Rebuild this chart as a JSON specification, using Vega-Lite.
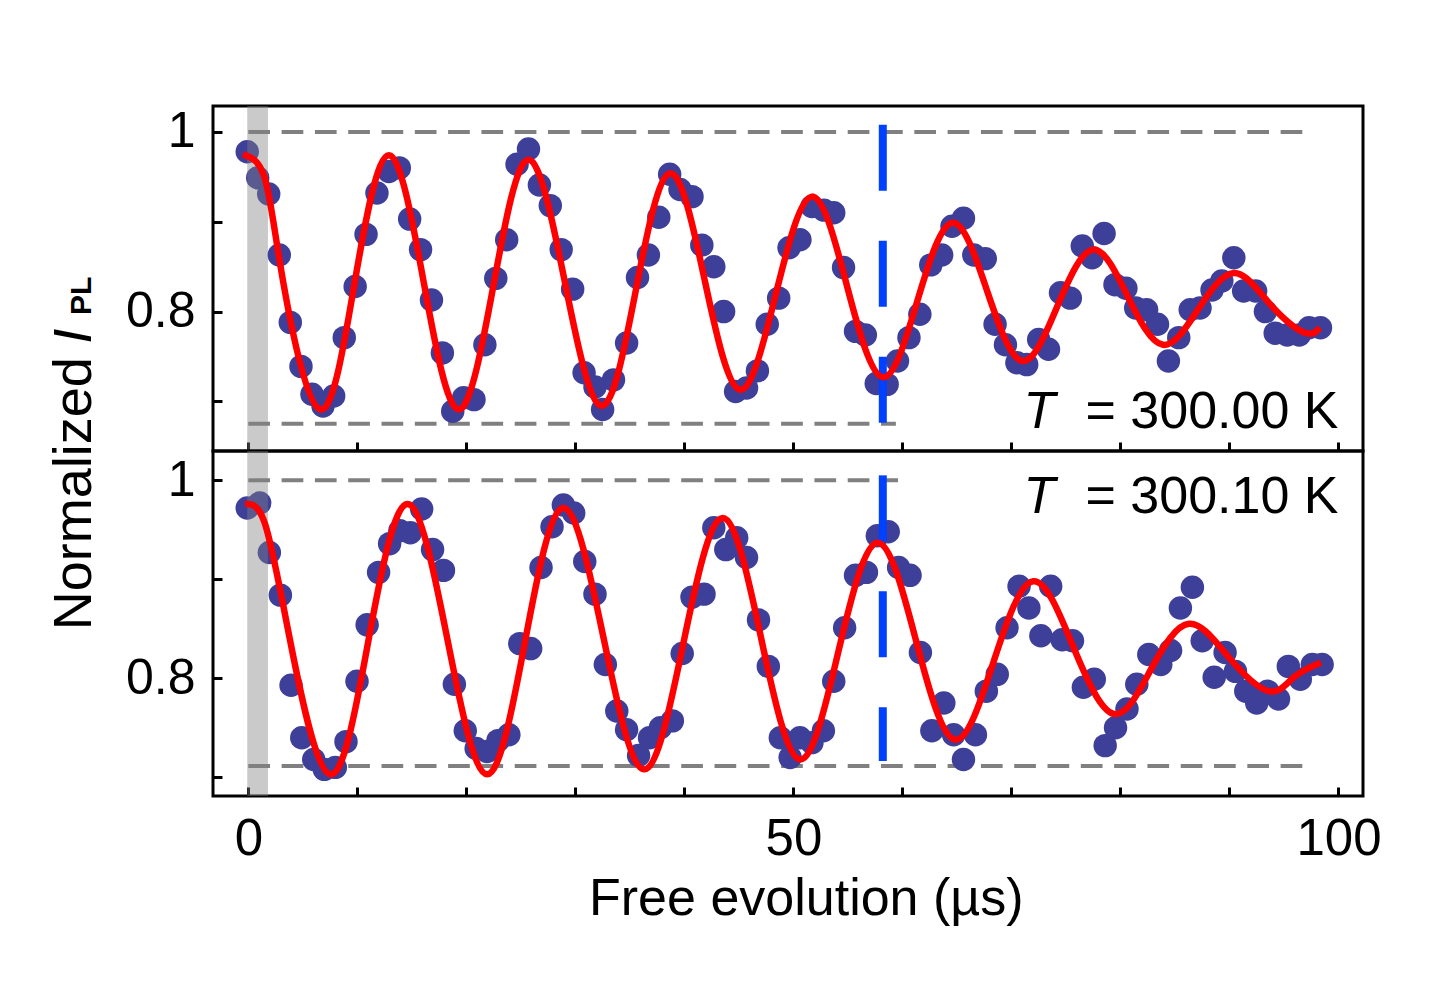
{
  "$schema": "https://vega.github.io/schema/vega-lite/v6.json",
  "padding": {"left": 45, "top": 104, "right": 5, "bottom": 5},
  "background": "white",
  "bounds": "flush",
  "spacing": 0,
  "config": {
    "font": "Liberation Sans",
    "view": {"stroke": "black", "strokeWidth": 3},
    "axis": {"domain": false, "grid": false, "tickColor": "black", "tickWidth": 3, "tickSize": -9, "labelColor": "black", "titleColor": "black", "labelFont": "Liberation Sans", "titleFont": "Liberation Sans", "titleFontWeight": "normal", "labelFlush": false, "labelOverlap": false}
  },
  "datasets": {
    "dots": [
      {"p":"top","t":-0.1,"v":0.978},{"p":"top","t":0.86,"v":0.949},{"p":"top","t":1.87,"v":0.931},{"p":"top","t":2.84,"v":0.863},{"p":"top","t":3.85,"v":0.788},{"p":"top","t":4.83,"v":0.739},{"p":"top","t":5.84,"v":0.708},{"p":"top","t":6.85,"v":0.695},{"p":"top","t":7.83,"v":0.706},{"p":"top","t":8.8,"v":0.771},
      {"p":"top","t":9.8,"v":0.828},{"p":"top","t":10.8,"v":0.886},{"p":"top","t":11.8,"v":0.932},{"p":"top","t":12.9,"v":0.956},{"p":"top","t":13.85,"v":0.96},{"p":"top","t":14.8,"v":0.903},{"p":"top","t":15.8,"v":0.869},{"p":"top","t":16.8,"v":0.813},{"p":"top","t":17.8,"v":0.754},{"p":"top","t":18.75,"v":0.689},
      {"p":"top","t":19.75,"v":0.704},{"p":"top","t":20.7,"v":0.702},{"p":"top","t":21.7,"v":0.763},{"p":"top","t":22.7,"v":0.837},{"p":"top","t":23.7,"v":0.88},{"p":"top","t":24.65,"v":0.964},{"p":"top","t":25.7,"v":0.981},{"p":"top","t":26.7,"v":0.941},{"p":"top","t":27.7,"v":0.918},{"p":"top","t":28.7,"v":0.869},
      {"p":"top","t":29.75,"v":0.825},{"p":"top","t":30.8,"v":0.732},{"p":"top","t":31.8,"v":0.716},{"p":"top","t":32.5,"v":0.691},{"p":"top","t":33.5,"v":0.724},{"p":"top","t":34.7,"v":0.765},{"p":"top","t":35.7,"v":0.838},{"p":"top","t":36.7,"v":0.863},{"p":"top","t":37.65,"v":0.905},{"p":"top","t":38.65,"v":0.953},
      {"p":"top","t":39.6,"v":0.936},{"p":"top","t":40.7,"v":0.928},{"p":"top","t":41.6,"v":0.874},{"p":"top","t":42.7,"v":0.85},{"p":"top","t":43.6,"v":0.8},{"p":"top","t":44.7,"v":0.711},{"p":"top","t":45.7,"v":0.715},{"p":"top","t":46.7,"v":0.734},{"p":"top","t":47.6,"v":0.786},{"p":"top","t":48.65,"v":0.815},
      {"p":"top","t":49.6,"v":0.871},{"p":"top","t":50.6,"v":0.88},{"p":"top","t":51.7,"v":0.917},{"p":"top","t":52.8,"v":0.913},{"p":"top","t":53.7,"v":0.91},{"p":"top","t":54.6,"v":0.849},{"p":"top","t":55.7,"v":0.778},{"p":"top","t":56.6,"v":0.774},{"p":"top","t":57.6,"v":0.72},{"p":"top","t":58.6,"v":0.719},
      {"p":"top","t":59.55,"v":0.745},{"p":"top","t":60.6,"v":0.771},{"p":"top","t":61.6,"v":0.797},{"p":"top","t":62.6,"v":0.852},{"p":"top","t":63.6,"v":0.863},{"p":"top","t":64.55,"v":0.895},{"p":"top","t":65.6,"v":0.904},{"p":"top","t":66.55,"v":0.863},{"p":"top","t":67.6,"v":0.859},{"p":"top","t":68.5,"v":0.786},
      {"p":"top","t":69.45,"v":0.763},{"p":"top","t":70.5,"v":0.743},{"p":"top","t":71.4,"v":0.741},{"p":"top","t":72.5,"v":0.769},{"p":"top","t":73.4,"v":0.758},{"p":"top","t":74.5,"v":0.821},{"p":"top","t":75.4,"v":0.815},{"p":"top","t":76.5,"v":0.873},{"p":"top","t":77.4,"v":0.86},{"p":"top","t":78.5,"v":0.887},
      {"p":"top","t":79.5,"v":0.83},{"p":"top","t":80.5,"v":0.826},{"p":"top","t":81.4,"v":0.804},{"p":"top","t":82.4,"v":0.802},{"p":"top","t":83.4,"v":0.786},{"p":"top","t":84.4,"v":0.745},{"p":"top","t":85.35,"v":0.771},{"p":"top","t":86.4,"v":0.802},{"p":"top","t":87.3,"v":0.804},{"p":"top","t":88.4,"v":0.824},
      {"p":"top","t":89.3,"v":0.834},{"p":"top","t":90.4,"v":0.86},{"p":"top","t":91.3,"v":0.823},{"p":"top","t":92.4,"v":0.823},{"p":"top","t":93.3,"v":0.8},{"p":"top","t":94.2,"v":0.776},{"p":"top","t":95.3,"v":0.774},{"p":"top","t":96.4,"v":0.774},{"p":"top","t":97.3,"v":0.782},{"p":"top","t":98.35,"v":0.782},
      {"p":"bot","t":-0.1,"v":0.972},{"p":"bot","t":1.04,"v":0.977},{"p":"bot","t":1.93,"v":0.927},{"p":"bot","t":2.94,"v":0.884},{"p":"bot","t":3.92,"v":0.793},{"p":"bot","t":4.9,"v":0.74},{"p":"bot","t":6.0,"v":0.718},{"p":"bot","t":6.97,"v":0.708},{"p":"bot","t":7.98,"v":0.71},{"p":"bot","t":8.96,"v":0.736},
      {"p":"bot","t":9.97,"v":0.797},{"p":"bot","t":10.9,"v":0.854},{"p":"bot","t":11.95,"v":0.907},{"p":"bot","t":12.96,"v":0.936},{"p":"bot","t":13.9,"v":0.949},{"p":"bot","t":14.86,"v":0.947},{"p":"bot","t":15.9,"v":0.971},{"p":"bot","t":16.9,"v":0.93},{"p":"bot","t":17.9,"v":0.909},{"p":"bot","t":18.9,"v":0.794},
      {"p":"bot","t":19.9,"v":0.747},{"p":"bot","t":20.9,"v":0.729},{"p":"bot","t":21.9,"v":0.726},{"p":"bot","t":22.9,"v":0.737},{"p":"bot","t":23.9,"v":0.743},{"p":"bot","t":24.9,"v":0.835},{"p":"bot","t":25.9,"v":0.83},{"p":"bot","t":26.85,"v":0.912},{"p":"bot","t":27.86,"v":0.953},{"p":"bot","t":28.9,"v":0.975},
      {"p":"bot","t":29.85,"v":0.967},{"p":"bot","t":30.86,"v":0.918},{"p":"bot","t":31.8,"v":0.885},{"p":"bot","t":32.75,"v":0.814},{"p":"bot","t":33.8,"v":0.767},{"p":"bot","t":34.7,"v":0.748},{"p":"bot","t":35.8,"v":0.722},{"p":"bot","t":36.8,"v":0.74},{"p":"bot","t":37.8,"v":0.75},{"p":"bot","t":38.9,"v":0.757},
      {"p":"bot","t":39.8,"v":0.825},{"p":"bot","t":40.7,"v":0.882},{"p":"bot","t":41.8,"v":0.885},{"p":"bot","t":42.7,"v":0.952},{"p":"bot","t":43.8,"v":0.93},{"p":"bot","t":44.8,"v":0.942},{"p":"bot","t":45.7,"v":0.922},{"p":"bot","t":46.8,"v":0.859},{"p":"bot","t":47.7,"v":0.812},{"p":"bot","t":48.8,"v":0.74},
      {"p":"bot","t":49.7,"v":0.72},{"p":"bot","t":50.6,"v":0.74},{"p":"bot","t":51.7,"v":0.735},{"p":"bot","t":52.75,"v":0.747},{"p":"bot","t":53.7,"v":0.797},{"p":"bot","t":54.7,"v":0.851},{"p":"bot","t":55.7,"v":0.904},{"p":"bot","t":56.7,"v":0.907},{"p":"bot","t":57.7,"v":0.944},{"p":"bot","t":58.7,"v":0.948},
      {"p":"bot","t":59.65,"v":0.912},{"p":"bot","t":60.7,"v":0.904},{"p":"bot","t":61.65,"v":0.826},{"p":"bot","t":62.7,"v":0.747},{"p":"bot","t":63.8,"v":0.775},{"p":"bot","t":64.7,"v":0.743},{"p":"bot","t":65.6,"v":0.718},{"p":"bot","t":66.7,"v":0.743},{"p":"bot","t":67.7,"v":0.787},{"p":"bot","t":68.7,"v":0.804},
      {"p":"bot","t":69.6,"v":0.851},{"p":"bot","t":70.7,"v":0.893},{"p":"bot","t":71.6,"v":0.871},{"p":"bot","t":72.7,"v":0.843},{"p":"bot","t":73.6,"v":0.893},{"p":"bot","t":74.65,"v":0.839},{"p":"bot","t":75.6,"v":0.838},{"p":"bot","t":76.6,"v":0.791},{"p":"bot","t":77.6,"v":0.799},{"p":"bot","t":78.6,"v":0.732},
      {"p":"bot","t":79.55,"v":0.75},{"p":"bot","t":80.6,"v":0.769},{"p":"bot","t":81.5,"v":0.794},{"p":"bot","t":82.6,"v":0.824},{"p":"bot","t":83.7,"v":0.814},{"p":"bot","t":84.6,"v":0.828},{"p":"bot","t":85.5,"v":0.871},{"p":"bot","t":86.6,"v":0.892},{"p":"bot","t":87.5,"v":0.838},{"p":"bot","t":88.6,"v":0.801},
      {"p":"bot","t":89.6,"v":0.826},{"p":"bot","t":90.55,"v":0.807},{"p":"bot","t":91.5,"v":0.787},{"p":"bot","t":92.5,"v":0.775},{"p":"bot","t":93.5,"v":0.787},{"p":"bot","t":94.5,"v":0.779},{"p":"bot","t":95.4,"v":0.812},{"p":"bot","t":96.5,"v":0.799},{"p":"bot","t":97.6,"v":0.814},{"p":"bot","t":98.5,"v":0.814}
    ],
    "fit": [
      {"p":"top","t":-0.5,"v":0.975},{"p":"top","t":1.5,"v":0.949},{"p":"top","t":3.2,"v":0.833},{"p":"top","t":6.6,"v":0.691},{"p":"top","t":9.75,"v":0.832},{"p":"top","t":12.9,"v":0.974},{"p":"top","t":16.1,"v":0.832},{"p":"top","t":19.3,"v":0.691},{"p":"top","t":22.5,"v":0.83},{"p":"top","t":25.7,"v":0.969},
      {"p":"top","t":29.05,"v":0.832},{"p":"top","t":32.4,"v":0.695},{"p":"top","t":35.55,"v":0.824},{"p":"top","t":38.7,"v":0.954},{"p":"top","t":41.9,"v":0.833},{"p":"top","t":45.1,"v":0.713},{"p":"top","t":48.4,"v":0.82},{"p":"top","t":51.7,"v":0.928},{"p":"top","t":54.95,"v":0.827},{"p":"top","t":58.2,"v":0.727},
      {"p":"top","t":61.4,"v":0.813},{"p":"top","t":64.6,"v":0.899},{"p":"top","t":67.8,"v":0.822},{"p":"top","t":71.0,"v":0.745},{"p":"top","t":74.25,"v":0.807},{"p":"top","t":77.5,"v":0.869},{"p":"top","t":80.7,"v":0.816},{"p":"top","t":83.9,"v":0.763},{"p":"top","t":87.15,"v":0.803},{"p":"top","t":90.4,"v":0.843},
      {"p":"top","t":93.6,"v":0.81},{"p":"top","t":96.8,"v":0.777},{"p":"top","t":98.3,"v":0.782},
      {"p":"bot","t":-0.3,"v":0.976},{"p":"bot","t":1.5,"v":0.957},{"p":"bot","t":3.8,"v":0.84},{"p":"bot","t":7.5,"v":0.703},{"p":"bot","t":11.05,"v":0.84},{"p":"bot","t":14.6,"v":0.976},{"p":"bot","t":18.25,"v":0.84},{"p":"bot","t":21.9,"v":0.703},{"p":"bot","t":25.4,"v":0.838},{"p":"bot","t":28.9,"v":0.972},
      {"p":"bot","t":32.6,"v":0.84},{"p":"bot","t":36.3,"v":0.708},{"p":"bot","t":39.9,"v":0.835},{"p":"bot","t":43.5,"v":0.962},{"p":"bot","t":47.05,"v":0.84},{"p":"bot","t":50.6,"v":0.718},{"p":"bot","t":54.15,"v":0.828},{"p":"bot","t":57.7,"v":0.937},{"p":"bot","t":61.25,"v":0.838},{"p":"bot","t":64.8,"v":0.738},
      {"p":"bot","t":68.4,"v":0.818},{"p":"bot","t":72.0,"v":0.898},{"p":"bot","t":75.7,"v":0.831},{"p":"bot","t":79.4,"v":0.764},{"p":"bot","t":82.85,"v":0.81},{"p":"bot","t":86.3,"v":0.855},{"p":"bot","t":89.95,"v":0.821},{"p":"bot","t":93.6,"v":0.787},{"p":"bot","t":95.9,"v":0.801},{"p":"bot","t":98.4,"v":0.816}
    ],
    "hlines": [
      {"p":"top","t1":0,"t2":97.3,"v":1.0},{"p":"top","t1":0,"t2":59.4,"v":0.675},
      {"p":"bot","t1":0,"t2":59.6,"v":1.0},{"p":"bot","t1":0,"t2":97.4,"v":0.7114}
    ],
    "vline": [
      {"p":"top","t":58.2,"v1":1.008,"v2":0.675},{"p":"bot","t":58.2,"v1":1.005,"v2":0.7165}
    ],
    "band": [{"t1":-0.1,"t2":1.8}],
    "labels": [{"p":"top","sym":"T","rest":"= 300.00 K"},{"p":"bot","sym":"T","rest":"= 300.10 K"}]
  },
  "vconcat": [
    {
      "width": 1150,
      "height": 345,
      "layer": [
        {
          "data": {"name": "hlines"},
          "transform": [{"filter": "datum.p === 'top'"}],
          "mark": {"type": "rule", "color": "#808080", "strokeWidth": 4, "strokeDash": [21.7, 11.6]},
          "encoding": {
            "x": {"field": "t1", "type": "quantitative", "scale": {"domain": [-3.24, 102.25], "nice": false, "zero": false}},
            "x2": {"field": "t2"},
            "y": {"field": "v", "type": "quantitative", "scale": {"domain": [0.6448, 1.0289], "nice": false, "zero": false}}
          }
        },
        {
          "data": {"name": "dots"},
          "transform": [{"filter": "datum.p === 'top'"}],
          "mark": {"type": "circle", "size": 550, "color": "#3d3f99", "opacity": 1},
          "encoding": {
            "x": {"field": "t", "type": "quantitative", "scale": {"domain": [-3.24, 102.25], "nice": false, "zero": false},
              "axis": {"values": [0,10,20,30,40,50,60,70,80,90,100], "labels": false, "title": "PL", "titleFontWeight": "bold", "titleFontSize": 30, "titleAngle": 270, "titleAlign": "left", "titleBaseline": "alphabetic", "titleX": -123, "titleY": -136.4}},
            "y": {"field": "v", "type": "quantitative", "scale": {"domain": [0.6448, 1.0289], "nice": false, "zero": false},
              "axis": {"values": [0.7, 0.8, 0.9, 1], "labelExpr": "datum.value == 1 ? '1' : (datum.value == 0.8 ? '0.8' : '')", "labelFontSize": 50, "labelPadding": 27, "title": "Normalized", "titleFontSize": 54, "titleAngle": 270, "titleAlign": "center", "titleBaseline": "alphabetic", "titleX": -123, "titleY": 387.3}}
          }
        },
        {
          "data": {"name": "band"},
          "mark": {"type": "rect", "color": "#808080", "opacity": 0.42},
          "encoding": {
            "x": {"field": "t1", "type": "quantitative", "scale": {"domain": [-3.24, 102.25], "nice": false, "zero": false}},
            "x2": {"field": "t2"}
          }
        },
        {
          "data": {"name": "vline"},
          "transform": [{"filter": "datum.p === 'top'"}],
          "mark": {"type": "rule", "color": "#0040ff", "strokeWidth": 8, "strokeDash": [66, 50]},
          "encoding": {
            "x": {"field": "t", "type": "quantitative", "scale": {"domain": [-3.24, 102.25], "nice": false, "zero": false}},
            "y": {"field": "v1", "type": "quantitative", "scale": {"domain": [0.6448, 1.0289], "nice": false, "zero": false}},
            "y2": {"field": "v2"}
          }
        },
        {
          "data": {"name": "fit"},
          "transform": [{"filter": "datum.p === 'top'"}],
          "mark": {"type": "line", "color": "#ff0000", "strokeWidth": 6.5, "interpolate": "natural"},
          "encoding": {
            "x": {"field": "t", "type": "quantitative", "scale": {"domain": [-3.24, 102.25], "nice": false, "zero": false}},
            "y": {"field": "v", "type": "quantitative", "scale": {"domain": [0.6448, 1.0289], "nice": false, "zero": false}}
          }
        },
        {
          "data": {"name": "labels"},
          "transform": [{"filter": "datum.p === 'top'"}],
          "mark": {"type": "text", "fontSize": 52, "fontStyle": "italic", "align": "left", "baseline": "alphabetic", "color": "black"},
          "encoding": {
            "x": {"datum": 71.1, "type": "quantitative", "scale": {"domain": [-3.24, 102.25], "nice": false, "zero": false}},
            "y": {"datum": 0.6708, "type": "quantitative", "scale": {"domain": [0.6448, 1.0289], "nice": false, "zero": false}},
            "text": {"field": "sym"}
          }
        },
        {
          "data": {"name": "labels"},
          "transform": [{"filter": "datum.p === 'top'"}],
          "mark": {"type": "text", "fontSize": 52, "align": "right", "baseline": "alphabetic", "color": "black"},
          "encoding": {
            "x": {"datum": 100, "type": "quantitative", "scale": {"domain": [-3.24, 102.25], "nice": false, "zero": false}},
            "y": {"datum": 0.6708, "type": "quantitative", "scale": {"domain": [0.6448, 1.0289], "nice": false, "zero": false}},
            "text": {"field": "rest"}
          }
        }
      ]
    },
    {
      "width": 1150,
      "height": 345,
      "layer": [
        {
          "data": {"name": "hlines"},
          "transform": [{"filter": "datum.p === 'bot'"}],
          "mark": {"type": "rule", "color": "#808080", "strokeWidth": 4, "strokeDash": [21.7, 11.6]},
          "encoding": {
            "x": {"field": "t1", "type": "quantitative", "scale": {"domain": [-3.24, 102.25], "nice": false, "zero": false}},
            "x2": {"field": "t2"},
            "y": {"field": "v", "type": "quantitative", "scale": {"domain": [0.6811, 1.0296], "nice": false, "zero": false}}
          }
        },
        {
          "data": {"name": "dots"},
          "transform": [{"filter": "datum.p === 'bot'"}],
          "mark": {"type": "circle", "size": 550, "color": "#3d3f99", "opacity": 1},
          "encoding": {
            "x": {"field": "t", "type": "quantitative", "scale": {"domain": [-3.24, 102.25], "nice": false, "zero": false},
              "axis": {"values": [0,10,20,30,40,50,60,70,80,90,100], "labelExpr": "datum.value % 50 === 0 ? datum.label : ''", "labelFontSize": 51, "labelPadding": 27, "title": "Free evolution (µs)", "titleFontSize": 52, "titleAngle": 0, "titleAlign": "center", "titleBaseline": "alphabetic", "titleX": 592.8, "titleY": 118.3}},
            "y": {"field": "v", "type": "quantitative", "scale": {"domain": [0.6811, 1.0296], "nice": false, "zero": false},
              "axis": {"values": [0.7, 0.8, 0.9, 1], "labelExpr": "datum.value == 1 ? '1' : (datum.value == 0.8 ? '0.8' : '')", "labelFontSize": 50, "labelPadding": 27, "title": "I", "titleFontStyle": "italic", "titleFontSize": 54, "titleAngle": 270, "titleAlign": "left", "titleBaseline": "alphabetic", "titleX": -123, "titleY": -107.7}}
          }
        },
        {
          "data": {"name": "band"},
          "mark": {"type": "rect", "color": "#808080", "opacity": 0.42},
          "encoding": {
            "x": {"field": "t1", "type": "quantitative", "scale": {"domain": [-3.24, 102.25], "nice": false, "zero": false}},
            "x2": {"field": "t2"}
          }
        },
        {
          "data": {"name": "vline"},
          "transform": [{"filter": "datum.p === 'bot'"}],
          "mark": {"type": "rule", "color": "#0040ff", "strokeWidth": 8, "strokeDash": [66, 50]},
          "encoding": {
            "x": {"field": "t", "type": "quantitative", "scale": {"domain": [-3.24, 102.25], "nice": false, "zero": false}},
            "y": {"field": "v1", "type": "quantitative", "scale": {"domain": [0.6811, 1.0296], "nice": false, "zero": false}},
            "y2": {"field": "v2"}
          }
        },
        {
          "data": {"name": "fit"},
          "transform": [{"filter": "datum.p === 'bot'"}],
          "mark": {"type": "line", "color": "#ff0000", "strokeWidth": 6.5, "interpolate": "natural"},
          "encoding": {
            "x": {"field": "t", "type": "quantitative", "scale": {"domain": [-3.24, 102.25], "nice": false, "zero": false}},
            "y": {"field": "v", "type": "quantitative", "scale": {"domain": [0.6811, 1.0296], "nice": false, "zero": false}}
          }
        },
        {
          "data": {"name": "labels"},
          "transform": [{"filter": "datum.p === 'bot'"}],
          "mark": {"type": "text", "fontSize": 52, "fontStyle": "italic", "align": "left", "baseline": "alphabetic", "color": "black"},
          "encoding": {
            "x": {"datum": 71.1, "type": "quantitative", "scale": {"domain": [-3.24, 102.25], "nice": false, "zero": false}},
            "y": {"datum": 0.9674, "type": "quantitative", "scale": {"domain": [0.6811, 1.0296], "nice": false, "zero": false}},
            "text": {"field": "sym"}
          }
        },
        {
          "data": {"name": "labels"},
          "transform": [{"filter": "datum.p === 'bot'"}],
          "mark": {"type": "text", "fontSize": 52, "align": "right", "baseline": "alphabetic", "color": "black"},
          "encoding": {
            "x": {"datum": 100, "type": "quantitative", "scale": {"domain": [-3.24, 102.25], "nice": false, "zero": false}},
            "y": {"datum": 0.9674, "type": "quantitative", "scale": {"domain": [0.6811, 1.0296], "nice": false, "zero": false}},
            "text": {"field": "rest"}
          }
        }
      ]
    }
  ]
}
